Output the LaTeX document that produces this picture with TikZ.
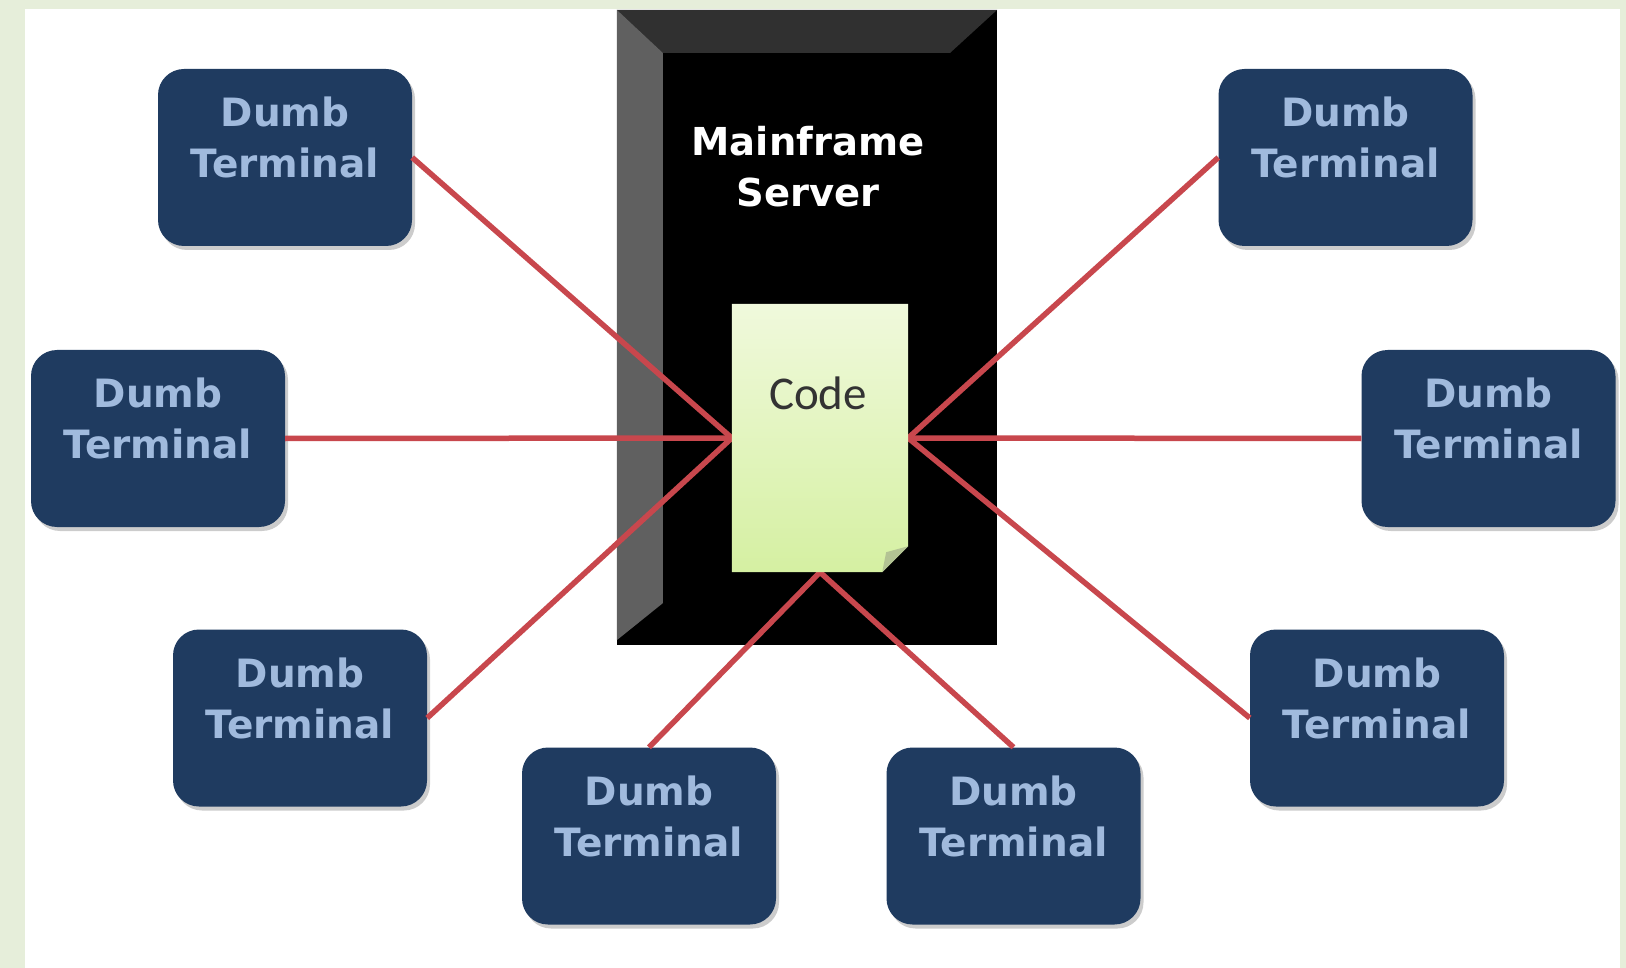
\documentclass[tikz,border=0pt]{standalone}
\usepackage{fontspec}
\setsansfont{DejaVu Sans}
\newfontfamily\codefont{Carlito}
\usetikzlibrary{calc,shadows}
\definecolor{bgframe}{HTML}{E6EEDA}
\definecolor{navy}{HTML}{1F3B60}
\definecolor{termtxt}{HTML}{A0BADD}
\definecolor{wire}{HTML}{C8474D}
\definecolor{topbevel}{HTML}{303030}
\definecolor{leftbevel}{HTML}{606060}
\definecolor{notetop}{HTML}{F0F9DC}
\definecolor{notebot}{HTML}{D5F0A2}
\tikzset{
  termbox/.style={draw=none, fill=navy, rounded corners=26pt, minimum width=254pt, minimum height=177pt, inner sep=0pt,
    drop shadow={shadow xshift=3pt, shadow yshift=-4pt, fill=black, opacity=0.2}},
  termtext/.style={text=termtxt, font=\sffamily\bfseries\fontsize{39}{51}\selectfont, align=center, inner sep=0pt},
  mftext/.style={text=white, font=\sffamily\bfseries\fontsize{38.5}{51}\selectfont, align=center, inner sep=0pt},
  wireline/.style={draw=wire, line width=5.5pt},
}
\begin{document}
\begin{tikzpicture}[x=1pt,y=-1pt]
\useasboundingbox (0,0) rectangle (1626,968);
\fill[bgframe] (0,0) rectangle (1626,968);
\fill[white] (25,9) rectangle (1620,968);
% mainframe
\node[fill=black, minimum width=380pt, minimum height=635pt, inner sep=0pt] (mf) at (807,327.5) {};
\fill[topbevel] (mf.north west) -- (mf.north east) -- ($(mf.north east)+(-47,43)$) -- ($(mf.north west)+(46,43)$) -- cycle;
\fill[leftbevel] (mf.north west) -- ($(mf.north west)+(46,43)$) -- ($(mf.south west)+(46,-42)$) -- ($(mf.south west)+(0,-5)$) -- cycle;
\node[mftext] (mft) at (808,167) {Mainframe\\Server};
% code note geometry
\node[minimum width=176pt, minimum height=268pt, inner sep=0pt] (code) at (820,438) {};
% terminals
\node[termbox] (tl) at (285,157.5) {};
\node[termbox] (ml) at (158,438.5) {};
\node[termbox] (bl) at (300,718) {};
\node[termbox] (bml) at (649,836) {};
\node[termbox] (bmr) at (1013.5,836) {};
\node[termbox] (br) at (1377,718) {};
\node[termbox] (mr) at (1488.5,438.5) {};
\node[termbox] (tr) at (1345.5,157.5) {};
% wires
\draw[wireline] (tl.east) -- (code.west);
\draw[wireline] (ml.east) -- (code.west);
\draw[wireline] (bl.east) -- (code.west);
\draw[wireline] (bml.north) -- (code.south);
\draw[wireline] (bmr.north) -- (code.south);
\draw[wireline] (br.west) -- (code.east);
\draw[wireline] (mr.west) -- (code.east);
\draw[wireline] (tr.west) -- (code.east);
% note
\shade[top color=notetop, bottom color=notebot] (code.north west) -- (code.north east) -- ($(code.south east)+(0,-26)$) -- ($(code.south east)+(-26,0)$) -- (code.south west) -- cycle;
\fill[color=notebot!60!gray] ($(code.south east)+(0,-26)$) -- ($(code.south east)+(-26,0)$) -- ($(code.south east)+(-22,-20)$) -- cycle;
\node[text=black!80, font=\codefont\fontsize{47}{50}\selectfont, inner sep=0pt] (codetext) at (818,393) {Code};
% terminal labels
\foreach \n in {tl,ml,bl,bml,bmr,br,mr,tr}{
  \node[termtext] (\n txt) at ($(\n.center)+(0,-20)$) {Dumb\\Terminal};
}
\end{tikzpicture}
\end{document}
